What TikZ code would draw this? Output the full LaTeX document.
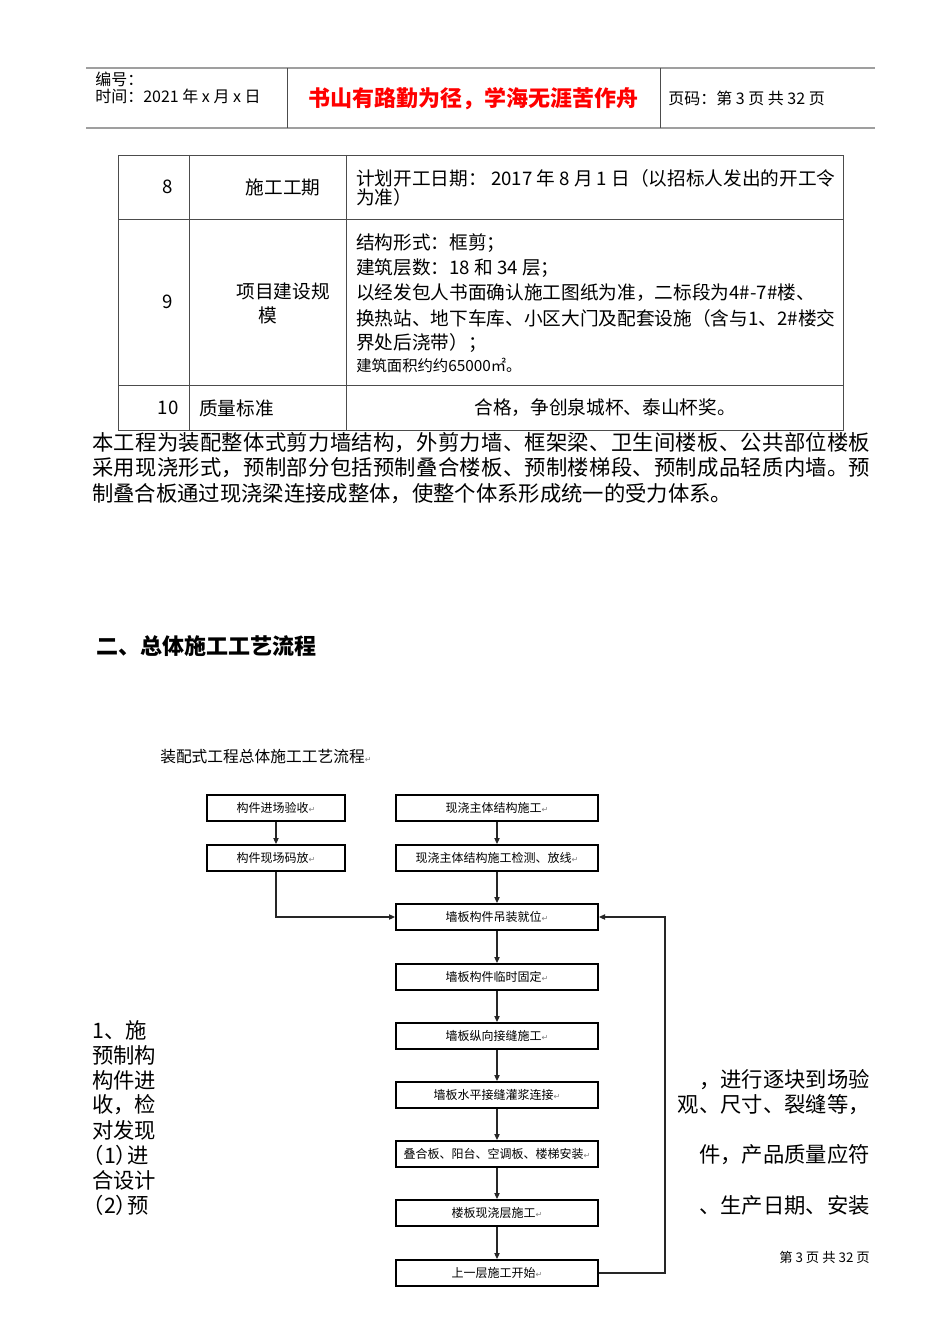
\documentclass[tikz,border=0pt]{standalone}
\usepackage{fontspec}
\setmainfont{Noto Sans CJK SC}
\newfontfamily\symfont{DejaVu Sans}
\usetikzlibrary{arrows.meta, positioning}

\newcommand{\pmark}{{\symfont\color{gray}\fontsize{6}{6}\selectfont ↵}}
% spread one line of characters over a fixed width
\newcommand{\spreadline}[2]{\makebox[#1][s]{\spreadfirst#2\relax}}
\def\spreadfirst#1{#1\spreadrest}
\def\spreadrest#1{\ifx#1\relax\else\hfil#1\expandafter\spreadrest\fi}

\begin{document}
\begin{tikzpicture}[
    x=0.75pt, y=-0.75pt,
    >={Triangle[length=4.5pt, width=4pt]},
    hdrline/.style={draw=gray!75, line width=1pt},
    grid/.style={draw=gray!60!black, line width=0.7pt},
    cell/.style={font=\fontsize{14}{17}\selectfont, inner sep=0pt},
    body/.style={font=\fontsize{16}{19}\selectfont, inner sep=0pt},
    stepbox/.style={rectangle, draw=black, line width=1.5pt, minimum width=151.5pt, minimum height=19.5pt, inner sep=0pt, font=\fontsize{9}{10}\selectfont},
    sidebox/.style={stepbox, minimum width=103.5pt},
    flow/.style={->, line width=0.8pt, draw=black!85}
]

\fill[white] (0,0) rectangle (950,1344);
\useasboundingbox (0,0) rectangle (950,1344);

% ==================== Page header ====================
\draw[hdrline] (86,68) -- (875,68);
\draw[hdrline, line width=1.8pt] (86,128) -- (875,128);
\draw[grid] (287,68) -- (287,128);
\draw[grid] (660,68) -- (660,128);

\node[anchor=west, inner sep=0pt, font=\fontsize{12}{13}\selectfont] (hdrno) at (95,79) {编号：};
\node[anchor=west, inner sep=0pt, font=\fontsize{12}{13}\selectfont] (hdrdate) at (95,96) {时间：2021 年 x 月 x 日};
\node[inner sep=0pt, text=red, font=\fontsize{16.5}{18}\selectfont\bfseries] (motto) at (473,99) {书山有路勤为径，学海无涯苦作舟};
\node[anchor=west, inner sep=0pt, font=\fontsize{12}{13}\selectfont] (hdrpage) at (668,98) {页码：第 3 页 共 32 页};

% ==================== Project table ====================
\draw[grid] (118,155) rectangle (843,430);
\draw[grid] (189,155) -- (189,430);
\draw[grid] (346,155) -- (346,430);
\draw[grid] (118,219) -- (843,219);
\draw[grid] (118,385) -- (843,385);

% row 8
\node[cell] (no8) at (168,187) {8};
\node[cell] (item8) at (283,187) {施工工期};
\node[cell, anchor=west] (val8a) at (356,178) {计划开工日期： 2017 年 8 月 1 日（以招标人发出的开工令};
\node[cell, anchor=west] (val8b) at (356,197) {为准）};

% row 9
\node[cell] (no9) at (168,302) {9};
\node[cell] (item9a) at (283,291) {项目建设规};
\node[cell] (item9b) at (268,315) {模};
\node[cell, anchor=west] (val9a) at (356,243) {结构形式：框剪；};
\node[cell, anchor=west] (val9b) at (356,268) {建筑层数：18 和 34 层；};
\node[cell, anchor=west] (val9c) at (356,293) {以经发包人书面确认施工图纸为准，二标段为4\#-7\#楼、};
\node[cell, anchor=west] (val9d) at (356,318) {换热站、地下车库、小区大门及配套设施（含与1、2\#楼交};
\node[cell, anchor=west] (val9e) at (356,343) {界处后浇带）；};
\node[cell, anchor=west, font=\fontsize{11.5}{13}\selectfont] (val9f) at (356,365) {建筑面积约约65000㎡。};

% row 10
\node[cell] (no10) at (168,408) {10};
\node[cell, anchor=west] (item10) at (199,408) {质量标准};
\node[cell] (val10) at (605,408) {合格，争创泉城杯、泰山杯奖。};

% ==================== Body text ====================
\node[body, anchor=west] (para1) at (92,443) {\spreadline{583.5pt}{本工程为装配整体式剪力墙结构，外剪力墙、框架梁、卫生间楼板、公共部位楼板}};
\node[body, anchor=west] (para2) at (92,468) {\spreadline{583.5pt}{采用现浇形式，预制部分包括预制叠合楼板、预制楼梯段、预制成品轻质内墙。预}};
\node[body, anchor=west] (para3) at (92,494) {制叠合板通过现浇梁连接成整体，使整个体系形成统一的受力体系。};

\node[body, anchor=west, font=\fontsize{16.5}{19}\selectfont\bfseries] (sect2) at (96,646) {二、总体施工工艺流程};

% left and right fragments beside the chart
\node[body, anchor=west] (frag1) at (92,1030) {1、施};
\node[body, anchor=west] (frag2) at (92,1055) {预制构};
\node[body, anchor=west] (frag3) at (92,1080) {构件进};
\node[body, anchor=west] (frag4) at (92,1105) {收，检};
\node[body, anchor=west] (frag5) at (92,1130) {对发现};
\node[body, anchor=west] (frag6) at (92,1155) {\kern-0.45em（1）\kern-0.45em 进};
\node[body, anchor=west] (frag7) at (92,1180) {合设计};
\node[body, anchor=west] (frag8) at (92,1205) {\kern-0.45em（2）\kern-0.45em 预};

\node[body, anchor=east] (rfrag1) at (870,1080) {\kern-0.4em，进行逐块到场验};
\node[body, anchor=east] (rfrag2) at (870,1105) {观、尺寸、裂缝等，};
\node[body, anchor=east] (rfrag3) at (870,1155) {件，产品质量应符};
\node[body, anchor=east] (rfrag4) at (870,1205) {、生产日期、安装};

\node[anchor=east, inner sep=0pt, font=\fontsize{10}{11}\selectfont] (footer) at (870,1257) {第 3 页 共 32 页};

% ==================== Flow chart ====================
\node[anchor=west, inner sep=0pt, font=\fontsize{11.8}{13}\selectfont] (charttitle) at (160,757) {装配式工程总体施工工艺流程\pmark};

\node[sidebox] (recv) at (276,808) {构件进场验收\pmark};
\node[sidebox] (stack) at (276,858) {构件现场码放\pmark};

\node[stepbox] (cast) at (497,808) {现浇主体结构施工\pmark};
\node[stepbox] (check) at (497,858) {现浇主体结构施工检测、放线\pmark};
\node[stepbox] (hoist) at (497,917) {墙板构件吊装就位\pmark};
\node[stepbox] (fix) at (497,977) {墙板构件临时固定\pmark};
\node[stepbox] (vjoint) at (497,1036) {墙板纵向接缝施工\pmark};
\node[stepbox] (hjoint) at (497,1095) {墙板水平接缝灌浆连接\pmark};
\node[stepbox] (slab) at (497,1154) {叠合板、阳台、空调板、楼梯安装\pmark};
\node[stepbox] (floor) at (497,1213) {楼板现浇层施工\pmark};
\node[stepbox] (next) at (497,1273) {上一层施工开始\pmark};

\coordinate (loopdn) at (665,1273);

\draw[flow] (recv) -- (stack);
\draw[flow] (stack.south) |- (hoist.west);
\draw[flow] (cast) -- (check);
\draw[flow] (check) -- (hoist);
\draw[flow] (hoist) -- (fix);
\draw[flow] (fix) -- (vjoint);
\draw[flow] (vjoint) -- (hjoint);
\draw[flow] (hjoint) -- (slab);
\draw[flow] (slab) -- (floor);
\draw[flow] (floor) -- (next);
\draw[flow] (next.east) -- (loopdn) |- (hoist.east);

\end{tikzpicture}
\end{document}
